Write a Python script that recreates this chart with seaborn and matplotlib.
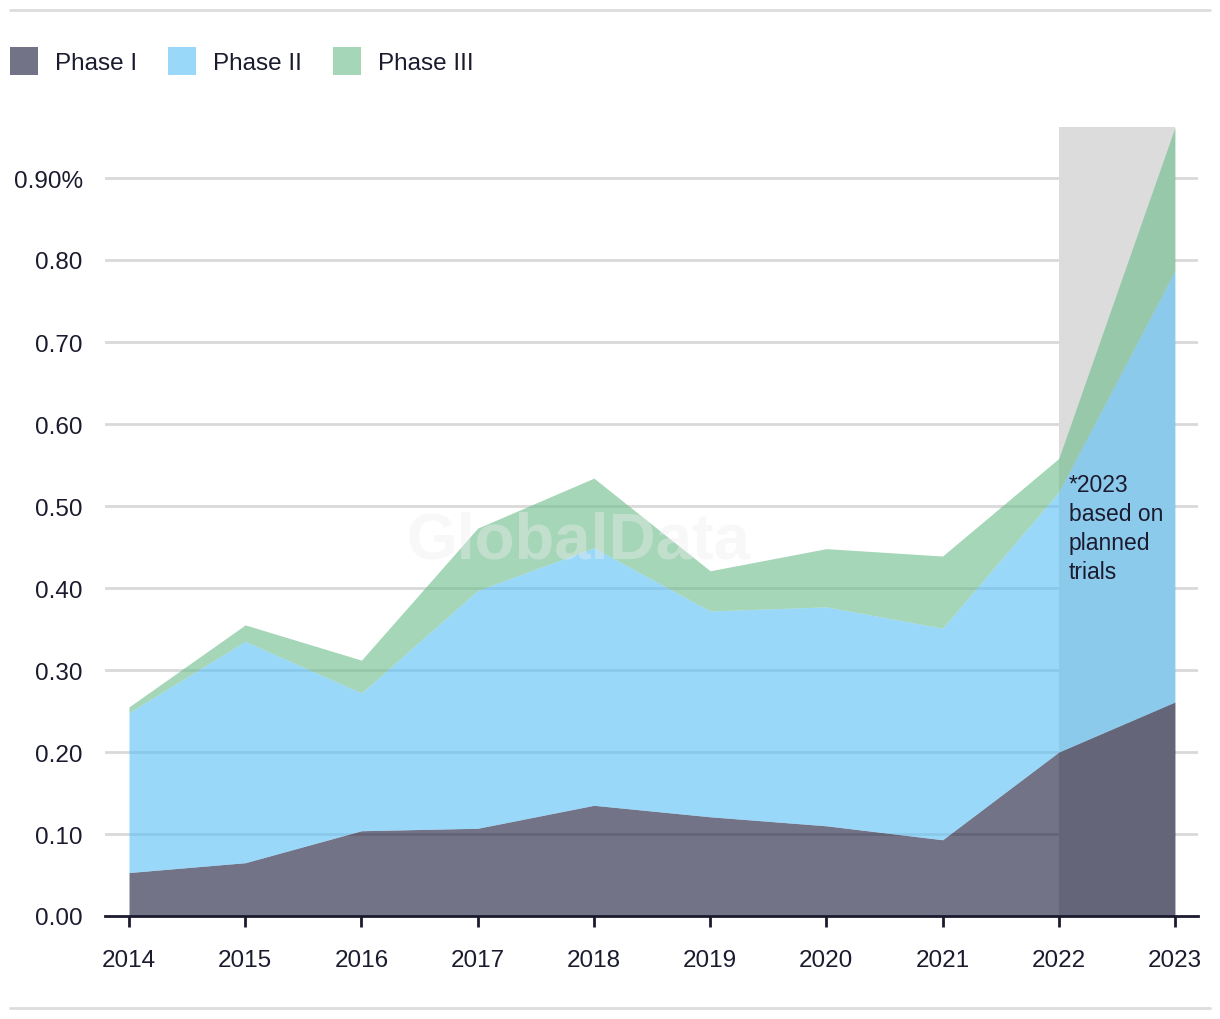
import matplotlib
matplotlib.use("Agg")
import matplotlib.pyplot as plt
import seaborn as sns
import numpy as np
from matplotlib.patches import Patch, Rectangle
from matplotlib.lines import Line2D

years = [2014, 2015, 2016, 2017, 2018, 2019, 2020, 2021, 2022, 2023]
phase1 = [0.053, 0.065, 0.104, 0.107, 0.135, 0.121, 0.110, 0.093, 0.200, 0.261]
phase2 = [0.195, 0.270, 0.168, 0.290, 0.314, 0.251, 0.267, 0.258, 0.317, 0.526]
phase3 = [0.007, 0.020, 0.040, 0.076, 0.085, 0.049, 0.071, 0.088, 0.041, 0.175]
series_names = ["Phase I", "Phase II", "Phase III"]
ytick_values = [0.0, 0.1, 0.2, 0.3, 0.4, 0.5, 0.6, 0.7, 0.8, 0.9]
ytick_labels = ["0.00", "0.10", "0.20", "0.30", "0.40", "0.50", "0.60", "0.70", "0.80", "0.90%"]
note_text = "*2023\nbased on\nplanned\ntrials"
watermark = "GlobalData"

sns.set_theme(style="white")
plt.rcParams["font.family"] = ["Liberation Sans", "DejaVu Sans"]

TXT = "#1b1b2f"
colors = ["#161638", "#57bef7", "#69bb8a"]
ALPHA = 0.6
FS = 17.5

fig = plt.figure(figsize=(12.2, 10.2), dpi=100)
ax = fig.add_axes([105/1220, 1 - 917/1020, (1198-105)/1220, (917-113.4)/1020])

ax.set_xlim(2014 - 24/116.2, 2023 + 23/116.2)
ax.set_ylim(0, 0.98)

# grid lines
for v in ytick_values[1:]:
    ax.axhline(v, color="#d9d9d9", lw=2, zorder=0)

# shaded projection region (2022-2023)
total_last = phase1[-1] + phase2[-1] + phase3[-1]
ax.add_patch(Rectangle((years[-2], 0), years[-1] - years[-2], total_last,
                       facecolor="#dcdcdc", edgecolor="none", zorder=1))

ax.stackplot(years, phase1, phase2, phase3, colors=colors, alpha=ALPHA,
             labels=series_names, zorder=2, linewidth=0)

ax.text(years[-2] + 10/116.2, 0.540, note_text, fontsize=16.5, color=TXT,
        va="top", ha="left", linespacing=1.33, zorder=5)

ax.text(2017.87, 0.458, watermark, fontsize=47, fontweight="bold", color="#eeeeee",
        alpha=0.4, ha="center", va="center", zorder=4)

for s in ["left", "right", "top"]:
    ax.spines[s].set_visible(False)
ax.spines["bottom"].set_color(TXT)
ax.spines["bottom"].set_linewidth(2)
ax.spines["bottom"].set_zorder(6)

ax.set_xticks(years)
ax.set_xticklabels([str(y) for y in years])
ax.set_yticks(ytick_values)
ax.set_yticklabels(ytick_labels)
ax.tick_params(axis="x", length=8, width=2, color=TXT, pad=16, labelsize=FS, labelcolor=TXT, direction="out", bottom=True)
ax.tick_params(axis="y", length=0, pad=16, labelsize=FS, labelcolor=TXT)
ax.grid(False)

handles = [Patch(facecolor=c, alpha=ALPHA, edgecolor="none") for c in colors]
fig.legend(handles, series_names, loc="upper left", bbox_to_anchor=(-0.006, 0.970),
           ncol=3, frameon=False, fontsize=FS, handlelength=1.15, handleheight=1.4,
           handletextpad=0.7, columnspacing=1.28, labelcolor=TXT, borderaxespad=0.3)

# top and bottom rules
fig.add_artist(Line2D([10/1220, 1210/1220], [1 - 11/1020, 1 - 11/1020], color="#dddddd", lw=2))
fig.add_artist(Line2D([10/1220, 1210/1220], [1 - 1009/1020, 1 - 1009/1020], color="#dddddd", lw=2))

fig.savefig("out.png", dpi=100)
